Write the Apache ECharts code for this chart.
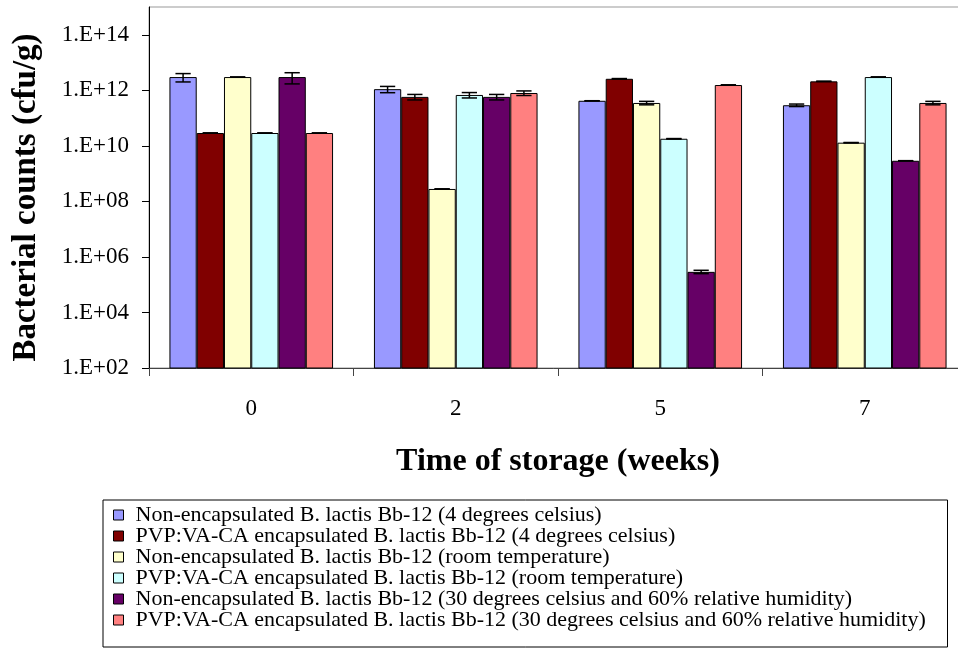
<!DOCTYPE html>
<html>
<head>
<meta charset="utf-8">
<script src="https://cdn.jsdelivr.net/npm/echarts@6/dist/echarts.min.js"></script>
<style>
html,body{margin:0;padding:0;background:#fff;overflow:hidden;}
#chart{width:958px;height:659px;}
</style>
</head>
<body>
<div id="chart"></div>
<script>
// ---- data ----
var categories = ['0', '2', '5', '7'];
var seriesNames = [
  'Non-encapsulated B. lactis Bb-12 (4 degrees celsius)',
  'PVP:VA-CA encapsulated B. lactis Bb-12 (4 degrees celsius)',
  'Non-encapsulated B. lactis Bb-12 (room temperature)',
  'PVP:VA-CA encapsulated B. lactis Bb-12 (room temperature)',
  'Non-encapsulated B. lactis Bb-12 (30 degrees celsius and 60% relative humidity)',
  'PVP:VA-CA encapsulated B. lactis Bb-12 (30 degrees celsius and 60% relative humidity)'
];
var nonEnc4C   = [3.0e12, 1.1e12, 4.2e11, 2.9e11];
var pvp4C      = [2.9e10, 5.8e11, 2.6e12, 2.1e12];
var nonEncRT   = [3.0e12, 2.8e8, 3.5e11, 1.3e10];
var pvpRT      = [2.9e10, 6.8e11, 1.8e10, 3.0e12];
var nonEnc30C  = [3.0e12, 5.8e11, 2.9e5, 2.9e9];
var pvp30C     = [2.9e10, 8.0e11, 1.55e12, 3.5e11];
// standard deviations (error bars)
var sdNonEnc4C  = [1.0e12, 2.8e11, 2e9, 3e10];
var sdPvp4C     = [3e8, 1.3e11, 5e10, 2e10];
var sdNonEncRT  = [3e10, 3e6, 5e10, 2e8];
var sdPvpRT     = [3e8, 1.5e11, 3e8, 5e10];
var sdNonEnc30C = [1.3e12, 1.3e11, 4e4, 3e7];
var sdPvp30C    = [3e8, 1.5e11, 3e10, 5e10];
var yTickValues = [1e2, 1e4, 1e6, 1e8, 1e10, 1e12, 1e14];
var colors = ['#9999FF', '#800000', '#FFFFCC', '#CCFFFF', '#660066', '#FF8080'];

var allValues = [nonEnc4C, pvp4C, nonEncRT, pvpRT, nonEnc30C, pvp30C];
var allSd = [sdNonEnc4C, sdPvp4C, sdNonEncRT, sdPvpRT, sdNonEnc30C, sdPvp30C];

var FONT = "'Liberation Serif', 'Times New Roman', serif";
var LEGEND_SIZE = 22;

// size the legend box so its right border sits where the reference's does
var mctx = document.createElement('canvas').getContext('2d');
mctx.font = LEGEND_SIZE + 'px ' + FONT;
var W = mctx.measureText(seriesNames[5]).width;
var textStart = 135, boxRight = 947;
var padRight = Math.max(6, boxRight - textStart - W);

var series = [];
for (var s = 0; s < 6; s++) {
  series.push({
    name: seriesNames[s],
    type: 'bar',
    data: allValues[s],
    barGap: '0%',
    barCategoryGap: '20%',
    itemStyle: { color: colors[s], borderColor: '#000', borderWidth: 1 },
    z: 2
  });
}
var errData = [];
for (var s2 = 0; s2 < 6; s2++) {
  for (var c = 0; c < categories.length; c++) {
    var v = allValues[s2][c], sd = allSd[s2][c];
    errData.push([c, v - sd, v + sd, s2]);
  }
}
series.push({
  type: 'custom',
  name: 'err',
  z: 5,
  silent: true,
  encode: { x: 0, y: [1, 2] },
  data: errData,
  renderItem: function (params, api) {
    var cat = api.value(0), lo = api.value(1), hi = api.value(2), si = api.value(3);
    var band = api.size([1, 0])[0];
    var bw = band * 0.8 / 6;
    var center = api.coord([cat, hi])[0] - band * 0.4 + bw * (si + 0.5);
    var yHi = api.coord([cat, hi])[1];
    var yLo = api.coord([cat, lo])[1];
    var hw = bw * 0.28;
    var st = { stroke: '#000', lineWidth: 1.5 };
    return {
      type: 'group',
      children: [
        { type: 'line', shape: { x1: center, y1: yHi, x2: center, y2: yLo }, style: st },
        { type: 'line', shape: { x1: center - hw, y1: yHi, x2: center + hw, y2: yHi }, style: st },
        { type: 'line', shape: { x1: center - hw, y1: yLo, x2: center + hw, y2: yLo }, style: st }
      ]
    };
  }
});

var chart = echarts.init(document.getElementById('chart'), null, { renderer: 'canvas' });
chart.setOption({
  animation: false,
  backgroundColor: '#fff',
  textStyle: { fontFamily: FONT },
  grid: {
    left: 149, top: 7, width: 818, height: 361,
    outerBoundsMode: 'none',
    show: true, borderColor: '#999', borderWidth: 1, containLabel: false
  },
  legend: {
    data: seriesNames,
    orient: 'vertical',
    left: 103, top: 500,
    padding: [4, padRight, 16, 10],
    itemGap: -1,
    itemWidth: 10, itemHeight: 10,
    icon: 'rect',
    itemStyle: { borderColor: '#000', borderWidth: 1 },
    borderColor: '#000', borderWidth: 1,
    textStyle: { fontFamily: FONT, fontSize: LEGEND_SIZE, color: '#000', lineHeight: 21, padding: [0, 0, 0, 7] }
  },
  xAxis: {
    type: 'category',
    data: categories,
    name: 'Time of storage (weeks)',
    nameLocation: 'middle',
    nameGap: 78,
    nameTextStyle: { fontFamily: FONT, fontSize: 32, fontWeight: 'bold', color: '#000' },
    axisLine: { lineStyle: { color: '#444', width: 1 } },
    axisTick: { show: true, length: 8, lineStyle: { color: '#444' } },
    axisLabel: { fontFamily: FONT, fontSize: 23, color: '#000', margin: 29 },
    splitLine: { show: false }
  },
  yAxis: {
    type: 'log',
    logBase: 10,
    min: 1e2,
    max: 1e15,
    name: 'Bacterial counts (cfu/g)',
    nameLocation: 'middle',
    nameGap: 106,
    nameTextStyle: { fontFamily: FONT, fontSize: 33, fontWeight: 'bold', color: '#000', padding: [0, 20, 0, 0] },
    axisLine: { show: true, lineStyle: { color: '#000', width: 1 } },
    axisTick: { show: true, length: 7, inside: false, lineStyle: { color: '#000' }, customValues: yTickValues },
    axisLabel: {
      fontFamily: FONT, fontSize: 23, color: '#000', margin: 20,
      customValues: yTickValues,
      formatter: function (v) {
        var e = Math.round(Math.log10(v));
        return '1.E+' + (e < 10 ? '0' : '') + e;
      }
    },
    splitLine: { show: false }
  },
  series: series
});
</script>
</body>
</html>
